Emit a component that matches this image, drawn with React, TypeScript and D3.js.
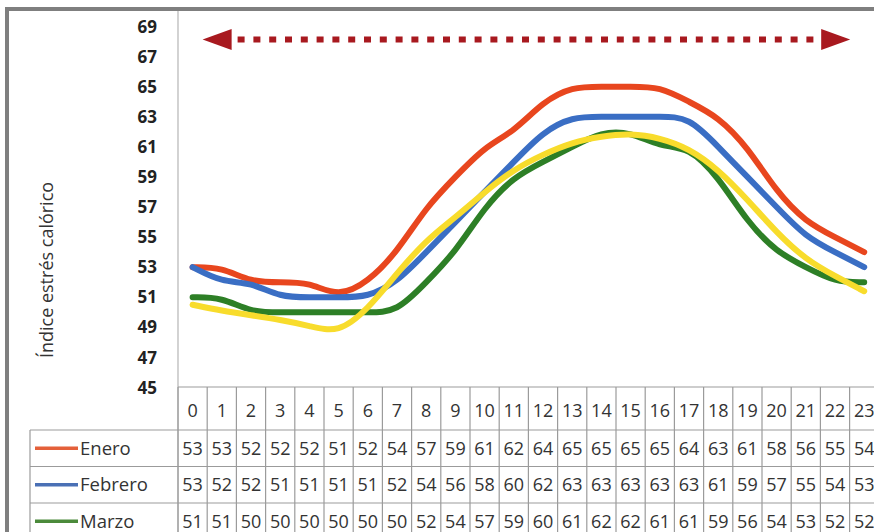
import React from "react";
import * as d3 from "d3";

// Hours of the day (table header / x categories)
const hours = ["0","1","2","3","4","5","6","7","8","9","10","11","12","13","14","15","16","17","18","19","20","21","22","23"];

// Heat stress index per hour, by month
const enero = [53,53,52,52,52,51,52,54,57,59,61,62,64,65,65,65,65,64,63,61,58,56,55,54];
const febrero = [53,52,52,51,51,51,51,52,54,56,58,60,62,63,63,63,63,63,61,59,57,55,54,53];
const marzo = [51,51,50,50,50,50,50,50,52,54,57,59,60,61,62,62,61,61,59,56,54,53,52,52];
const cuarta = [50.5,50.1,49.8,49.5,49.1,48.6,50.2,52.6,54.8,56.3,58.0,59.5,60.5,61.3,61.7,61.9,61.6,60.9,59.5,57.5,55.3,53.5,52.4,51.4];

const seriesNames = ["Enero", "Febrero", "Marzo"];
const yTicks = [45,47,49,51,53,55,57,59,61,63,65,67,69];
const yTitle = "Índice estrés calórico";

const W = 874;
const H = 532;

export default function App() {
  const x = d3.scaleBand<string>().domain(hours).range([178, 178 + 24 * 29.2]).padding(0);
  const y = d3.scaleLinear().domain([45, 69]).range([387.5, 26.5]);
  const cx = (h: string) => (x(h) as number) + x.bandwidth() / 2;

  // smoothed hourly profile
  const line = d3
    .line<number>()
    .x((_, i) => cx(hours[i]))
    .y((v) => y(v))
    .curve(d3.curveBasis);

  const lines = [
    { data: enero, color: "#e8461e" },
    { data: febrero, color: "#3a6ec4" },
    { data: marzo, color: "#2d7f26" },
    { data: cuarta, color: "#f8dc2c" },
  ];

  const tableRows = [
    { name: seriesNames[0], data: enero, color: "#e4603a" },
    { name: seriesNames[1], data: febrero, color: "#4a70b5" },
    { name: seriesNames[2], data: marzo, color: "#4b8a3b" },
  ];

  const headerTop = 387;
  const headerBottom = 430;
  const rowH = 36.5;
  const rowTops = tableRows.map((_, i) => headerBottom + i * rowH);
  const gridColor = "#9b9b9b";
  const font = "'Open Sans', sans-serif";

  // Arrow spanning the day, just inside the first and last hour
  const arrowY = 39.5;
  const arrowL = cx(hours[0]) + 10;
  const arrowR = cx(hours[hours.length - 1]) - 14;
  const headW = 29;
  const headH = 21;
  const arrowColor = "#a8191f";

  return (
    <svg
      width={W}
      height={H}
      viewBox={`0 0 ${W} ${H}`}
      style={{ position: "absolute", left: 0, top: 0, background: "#fff" }}
    >
      <rect x={0} y={0} width={W} height={H} fill="#fff" />
      {/* outer frame */}
      <rect x={7} y={9} width={W + 20} height={H + 20} fill="none" stroke="#7f7f7f" strokeWidth={4} />

      {/* y axis title */}
      <text
        transform={`translate(53,270) rotate(-90)`}
        textAnchor="middle"
        fontFamily={font}
        fontSize={18}
        fill="#333"
      >
        {yTitle}
      </text>

      {/* y tick labels */}
      {yTicks.map((t) => (
        <text
          key={t}
          x={157}
          y={y(t)}
          dy="0.36em"
          textAnchor="end"
          fontFamily={font}
          fontWeight={700}
          fontSize={17}
          fill="#222"
        >
          {t}
        </text>
      ))}

      {/* plot frame: y axis and bottom */}
      <line x1={178} x2={178} y1={11} y2={H} stroke="#b5b5b5" strokeWidth={1.2} />
      <line x1={178} x2={W} y1={headerTop} y2={headerTop} stroke={gridColor} strokeWidth={1.2} />

      {/* arrow */}
      <line
        x1={arrowL + headW + 6}
        x2={arrowR - headW - 3}
        y1={arrowY}
        y2={arrowY}
        stroke={arrowColor}
        strokeWidth={6}
        strokeDasharray="7 8.8"
      />
      <path
        d={`M${arrowL},${arrowY} L${arrowL + headW},${arrowY - headH / 2} L${arrowL + headW},${arrowY + headH / 2} Z`}
        fill={arrowColor}
      />
      <path
        d={`M${arrowR},${arrowY} L${arrowR - headW},${arrowY - headH / 2} L${arrowR - headW},${arrowY + headH / 2} Z`}
        fill={arrowColor}
      />

      {/* series lines */}
      {lines.map((s, i) => (
        <path
          key={i}
          d={line(s.data) || ""}
          fill="none"
          stroke={s.color}
          strokeWidth={6}
          strokeLinecap="round"
          strokeLinejoin="round"
        />
      ))}

      {/* data table grid */}
      {d3.range(hours.length + 1).map((k) => {
        const xx = 178 + k * x.bandwidth();
        return (
          <line key={k} x1={xx} x2={xx} y1={headerTop} y2={H} stroke={gridColor} strokeWidth={1.2} />
        );
      })}
      {rowTops.map((t, i) => (
        <line key={i} x1={30} x2={W} y1={t} y2={t} stroke={gridColor} strokeWidth={1.2} />
      ))}
      <line x1={30} x2={30} y1={headerBottom} y2={H} stroke={gridColor} strokeWidth={1.2} />

      {/* header hours */}
      {hours.map((h) => (
        <text
          key={h}
          x={cx(h)}
          y={(headerTop + headerBottom) / 2 + 2}
          dy="0.36em"
          textAnchor="middle"
          fontFamily={font}
          fontSize={18}
          fill="#333"
        >
          {h}
        </text>
      ))}

      {/* table rows */}
      {tableRows.map((r, i) => {
        const cy = rowTops[i] + rowH / 2;
        return (
          <g key={r.name}>
            <line x1={35} x2={78} y1={cy} y2={cy} stroke={r.color} strokeWidth={3.5} />
            <text x={80} y={cy} dy="0.36em" fontFamily={font} fontSize={18.5} fill="#333">
              {r.name}
            </text>
            {r.data.map((v, j) => (
              <text
                key={j}
                x={cx(hours[j])}
                y={cy}
                dy="0.36em"
                textAnchor="middle"
                fontFamily={font}
                fontSize={18}
                fill="#333"
              >
                {v}
              </text>
            ))}
          </g>
        );
      })}
    </svg>
  );
}
